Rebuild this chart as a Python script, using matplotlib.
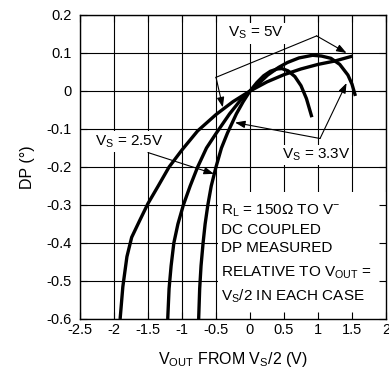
import matplotlib
matplotlib.use("Agg")
import matplotlib.pyplot as plt
from matplotlib.patches import Rectangle
import numpy as np

plt.rcParams['font.family'] = ['Liberation Sans', 'DejaVu Sans']
plt.rcParams['mathtext.default'] = 'regular'

# Data
x_5v = [-1.91, -1.87, -1.81, -1.74, -1.62, -1.50, -1.35, -1.19, -1.00, -0.77, -0.50, -0.25, 0.00, 0.25, 0.50, 0.75, 1.00, 1.25, 1.51]
y_5v = [-0.60, -0.515, -0.436, -0.385, -0.34, -0.296, -0.25, -0.20, -0.155, -0.105, -0.062, -0.028, 0.0, 0.024, 0.043, 0.058, 0.070, 0.079, 0.092]

x_33v = [-1.21, -1.19, -1.16, -1.12, -1.06, -0.98, -0.88, -0.77, -0.64, -0.50, -0.30, -0.13, 0.00, 0.13, 0.26, 0.42, 0.55, 0.72, 0.92, 1.05, 1.19, 1.32, 1.44, 1.50, 1.55]
y_33v = [-0.60, -0.52, -0.46, -0.40, -0.35, -0.30, -0.25, -0.20, -0.15, -0.112, -0.06, -0.022, 0.0, 0.02, 0.042, 0.062, 0.075, 0.087, 0.094, 0.092, 0.086, 0.07, 0.042, 0.018, -0.013]

x_25v = [-0.755, -0.74, -0.72, -0.69, -0.66, -0.62, -0.57, -0.50, -0.42, -0.33, -0.20, -0.10, 0.00, 0.10, 0.20, 0.30, 0.40, 0.47, 0.56, 0.66, 0.75, 0.83, 0.91]
y_25v = [-0.60, -0.52, -0.46, -0.40, -0.35, -0.30, -0.25, -0.20, -0.15, -0.11, -0.06, -0.028, 0.0, 0.022, 0.040, 0.052, 0.058, 0.059, 0.053, 0.038, 0.014, -0.02, -0.069]

x_ticks = [-2.5, -2, -1.5, -1, -0.5, 0, 0.5, 1, 1.5, 2]
x_ticklabels = ['-2.5', '-2', '-1.5', '-1', '-0.5', '0', '0.5', '1', '1.5', '2']
y_ticks = [-0.6, -0.5, -0.4, -0.3, -0.2, -0.1, 0, 0.1, 0.2]
y_ticklabels = ['-0.6', '-0.5', '-0.4', '-0.3', '-0.2', '-0.1', '0', '0.1', '0.2']

fig = plt.figure(figsize=(3.89, 3.75), dpi=100)
ax = fig.add_axes([80/389, 1-319/375, 306/389, 304/375])
ax.set_xlim(-2.5, 2)
ax.set_ylim(-0.6, 0.2)

# grid drawn manually (below the note box)
for xv in x_ticks:
    ax.axvline(xv, color='black', lw=0.8, zorder=0.5)
for yv in y_ticks:
    ax.axhline(yv, color='black', lw=0.8, zorder=0.5)

# curves
for xs, ys in [(x_5v, y_5v), (x_33v, y_33v), (x_25v, y_25v)]:
    ax.plot(xs, ys, color='black', lw=2.4, zorder=3, solid_capstyle='butt')

# note box
ax.add_patch(Rectangle((-0.466, -0.6), 2.466, 0.335, facecolor='white', edgecolor='none', zorder=1.5))
fs_note = 11
note_x = -0.43
ax.text(note_x, -0.315, r'R$_{L}$ = 150Ω TO V$^{-}$', fontsize=fs_note, va='center', ha='left', zorder=4)
ax.text(note_x, -0.366, 'DC COUPLED', fontsize=fs_note, va='center', ha='left', zorder=4)
ax.text(note_x, -0.414, 'DP MEASURED', fontsize=fs_note, va='center', ha='left', zorder=4)
ax.text(note_x, -0.478, r'RELATIVE TO V$_{OUT}$ =', fontsize=fs_note, va='center', ha='left', zorder=4)
ax.text(note_x, -0.541, r'V$_{S}$/2 IN EACH CASE', fontsize=fs_note, va='center', ha='left', zorder=4)

# labels with arrows
fs_lab = 11
bb = dict(facecolor='white', edgecolor='none', pad=1.5)
ax.text(0.09, 0.152, r'V$_{S}$ = 5V', fontsize=fs_lab, ha='center', va='center', bbox=bb, zorder=4)
ax.text(0.97, -0.168, r'V$_{S}$ = 3.3V', fontsize=fs_lab, ha='center', va='center', bbox=bb, zorder=4)
ax.text(-1.77, -0.133, r'V$_{S}$ = 2.5V', fontsize=fs_lab, ha='center', va='center', bbox=bb, zorder=4)

ap = dict(arrowstyle='-|>,head_length=0.6,head_width=0.22', color='black', lw=0.8, shrinkA=0, shrinkB=0)
# 5V
ax.plot([0.98, -0.5], [0.145, 0.036], color='black', lw=0.8, zorder=4)
ax.annotate('', xy=(1.42, 0.1), xytext=(0.98, 0.145), arrowprops=ap, zorder=4)
ax.annotate('', xy=(-0.40, -0.043), xytext=(-0.5, 0.036), arrowprops=ap, zorder=4)
# 3.3V
ax.annotate('', xy=(1.42, 0.021), xytext=(1.03, -0.125), arrowprops=ap, zorder=4)
ax.annotate('', xy=(-0.22, -0.083), xytext=(1.03, -0.125), arrowprops=ap, zorder=4)
# 2.5V
ax.annotate('', xy=(-0.53, -0.218), xytext=(-1.5, -0.162), arrowprops=ap, zorder=4)

ax.set_xticks(x_ticks)
ax.set_xticklabels(x_ticklabels)
ax.set_yticks(y_ticks)
ax.set_yticklabels(y_ticklabels)
ax.tick_params(direction='in', length=5, width=0.8, top=True, right=True, labelsize=10.5, color='black')
ax.tick_params(axis='x', pad=3)
ax.tick_params(axis='y', pad=6)
for s in ax.spines.values():
    s.set_linewidth(1.0)
    s.set_zorder(5)

ax.set_xlabel(r'V$_{OUT}$ FROM V$_{S}$/2 (V)', fontsize=11.5, labelpad=9)
ax.set_ylabel('DP (°)', fontsize=11.5, labelpad=8)

fig.savefig('out.png', dpi=100)
